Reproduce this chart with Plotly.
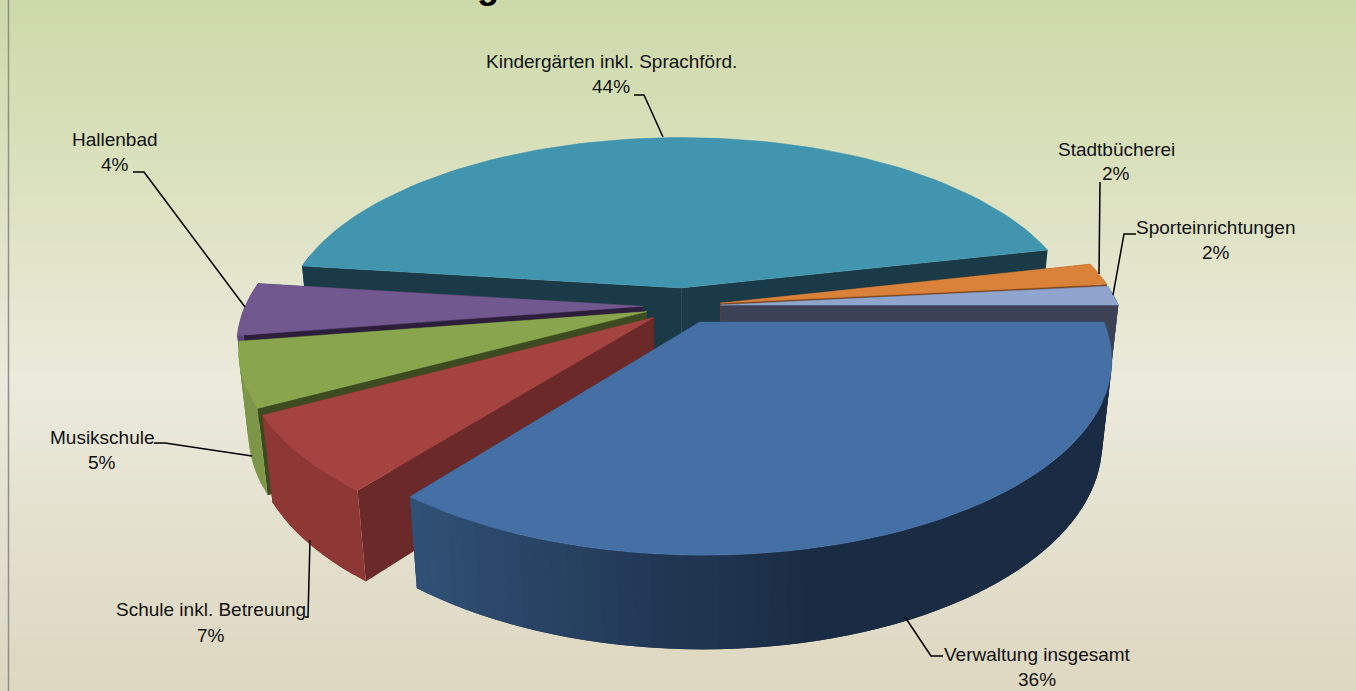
import math
import plotly.graph_objects as go

# ---- data (clockwise from the first slice) ----
categories = ["Kindergärten inkl. Sprachförd.", "Stadtbücherei", "Sporteinrichtungen",
              "Verwaltung insgesamt", "Schule inkl. Betreuung", "Musikschule", "Hallenbad"]
values = [44.4, 1.9, 1.67, 35.6, 6.52, 5.4, 4.49]

# ---- styles ----
top_colors = ["#4195AE", "#DA813A", "#8FA5CD", "#4570A5", "#A54341", "#89A54D", "#71588E"]
side_colors = ["#1A3A48", "#7A4620", "#3C4155", "#2A4568", "#6B2929", "#3D4B21", "#2D1E3C"]
outer_light = [(40, 90, 110), (150, 90, 40), (60, 65, 85), (53, 88, 128), (142, 56, 54), (125, 150, 72), (92, 72, 118)]
outer_dark = [(26, 58, 72), (120, 70, 30), (60, 65, 85), (26, 44, 68), (130, 50, 50), (120, 145, 68), (88, 68, 112)]
explode = [0.1, 0.095, 0.095, 0.095, 0.095, 0.095, 0.1]
draw_order = [0, 1, 2, 6, 5, 4, 3]

label_layout = {
    0: dict(cx=611, y1=61, y2=86, line=[(634, 95), (644, 95), (663, 137)]),
    1: dict(cx=1116, y1=149, y2=173, line=[(1100, 182), (1099, 274)]),
    2: dict(cx=1216, y1=227, y2=252, line=[(1136, 234), (1124, 234), (1113, 295)]),
    3: dict(cx=1037, y1=654, y2=679, line=[(943, 656), (931, 656), (905, 617)]),
    4: dict(cx=211, y1=609, y2=635, line=[(305, 617), (308, 617), (310, 540)]),
    5: dict(cx=102, y1=437, y2=462, line=[(154, 443), (165, 443), (252, 456)]),
    6: dict(cx=115, y1=139, y2=164, line=[(133, 172), (144, 172), (245, 307)]),
}

# ---- projection of the tilted, extruded pie ----
CX, CY, S, T, K = 683.0, 306.0, 398.0, 184.0, 0.183
DEPTH_Y, DEPTH_W = 83.0, 0.022


def project(X, Y, down=0.0):
    w = 1 + K * Y + DEPTH_W * down
    return CX + S * X / w, CY + (-T * Y + DEPTH_Y * down) / w


def rgb(c):
    return "rgb(%d,%d,%d)" % tuple(int(round(v)) for v in c)


fig = go.Figure()

# background gradient
grad_y = [0, 60, 200, 380, 520, 691]
grad_c = ["#CCD9A8", "#D1DDB0", "#DDE2C1", "#ECEADC", "#E4E1CF", "#DED7C1"]
fig.add_trace(go.Heatmap(
    x=[9, 1356], y=grad_y, z=[[i, i] for i in range(len(grad_y))], zsmooth="best",
    colorscale=[[i / (len(grad_c) - 1), c] for i, c in enumerate(grad_c)],
    showscale=False, hoverinfo="skip"))


def poly(points, color, stroke=0.0):
    xs = [p[0] for p in points] + [points[0][0]]
    ys = [p[1] for p in points] + [points[0][1]]
    fig.add_trace(go.Scatter(x=xs, y=ys, mode="lines", fill="toself", fillcolor=color,
                             line=dict(color=color, width=stroke), hoverinfo="skip", showlegend=False))


total = sum(values)
start = 90 - sum(values[:3]) / total * 360
spans = []
a = start
for v in values:
    spans.append((a, a + v / total * 360))
    a += v / total * 360

for i in draw_order:
    a0, a1 = spans[i]
    mid = math.radians((a0 + a1) / 2)
    ox, oy = explode[i] * math.sin(mid), explode[i] * math.cos(mid)
    n = max(4, int((a1 - a0) / 2))
    angs = [math.radians(a0 + (a1 - a0) * j / n) for j in range(n + 1)]
    rim = [(ox + math.sin(t), oy + math.cos(t)) for t in angs]
    apex = (ox, oy)

    walls = []
    for A, B in ((apex, rim[0]), (rim[-1], apex)):
        walls.append(((A[1] + B[1]) / 2, [project(*A), project(*B), project(*B, 1), project(*A, 1)], side_colors[i]))
    for j in range(n):
        if math.cos(angs[j]) > 0.13 and math.cos(angs[j + 1]) > 0.13:
            continue  # faces away from the viewer
        A, B = rim[j], rim[min(j + 2, n)]  # panels overlap so no seams show
        f = min(1, max(0, ((rim[j][0] + rim[j + 1][0]) / 2 + 0.7) / 0.95))
        col = [outer_light[i][c] + (outer_dark[i][c] - outer_light[i][c]) * f for c in range(3)]
        C = rim[j + 1]
        pts = [project(*A), project(*C), project(*B), project(*B, 1), project(*C, 1), project(*A, 1)]
        walls.append(((A[1] + B[1]) / 2, pts, rgb(col)))
    for _, pts, col in sorted(walls, key=lambda w: -w[0]):
        poly(pts, col)
    poly([project(*apex)] + [project(*p) for p in rim], top_colors[i], 0.5)

# leader lines and labels
annotations = []
for i, info in label_layout.items():
    fig.add_trace(go.Scatter(x=[p[0] for p in info["line"]], y=[p[1] for p in info["line"]], mode="lines",
                             line=dict(color="#000000", width=1.5), hoverinfo="skip", showlegend=False))
    for text, y in ((categories[i], info["y1"]), ("%d%%" % round(values[i] / total * 100), info["y2"])):
        annotations.append(dict(x=info["cx"], y=y, xref="x", yref="y", text=text, showarrow=False,
                                xanchor="center", yanchor="middle",
                                font=dict(family="Liberation Sans, Arial", size=19, color="#111111")))

# clipped title remnant at the top edge
annotations.append(dict(x=488 / 1356, y=1, xref="paper", yref="paper", text="<b>g</b>", showarrow=False,
                        xanchor="center", yanchor="bottom", yshift=-8,
                        font=dict(family="Liberation Sans, Arial", size=36, color="#000000")))

# left chart border
fig.add_shape(type="line", x0=8.5, x1=8.5, y0=0, y1=691, xref="x", yref="y", line=dict(color="#8E8E8E", width=1.5))

fig.update_layout(
    width=1356, height=691, margin=dict(l=0, r=0, t=0, b=0),
    paper_bgcolor="#FFFFFF", plot_bgcolor="#FFFFFF", showlegend=False, annotations=annotations,
    xaxis=dict(range=[0, 1356], visible=False, fixedrange=True),
    yaxis=dict(range=[691, 0], visible=False, fixedrange=True),
)
fig.write_html("out.html", config=dict(displayModeBar=False),
               post_script="document.body.style.margin='0';document.body.style.overflow='hidden';")
